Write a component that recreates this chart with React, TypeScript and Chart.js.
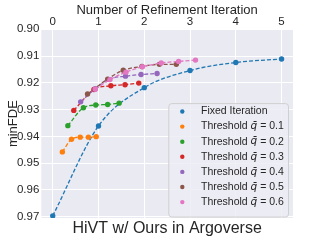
import React, { useEffect, useRef } from 'react';
import { Chart, registerables } from 'chart.js';
Chart.register(...registerables);

const fixedX = [0, 1, 2, 3, 4, 5];
const fixedY = [0.9697, 0.9361, 0.9218, 0.9154, 0.9124, 0.9111];
const q1X = [0.21, 0.41, 0.6, 0.78, 0.95];
const q1Y = [0.9458, 0.9411, 0.9403, 0.9403, 0.9401];
const q2X = [0.33, 0.67, 0.94, 1.2, 1.45];
const q2Y = [0.936, 0.9293, 0.9283, 0.9281, 0.9276];
const q3X = [0.46, 0.9, 1.27, 1.58, 1.88];
const q3Y = [0.9303, 0.9225, 0.9211, 0.9207, 0.9201];
const q4X = [0.61, 0.93, 1.22, 1.59, 1.93, 2.28];
const q4Y = [0.9271, 0.9222, 0.9187, 0.9175, 0.9169, 0.9165];
const q5X = [0.76, 1.2, 1.54, 1.95, 2.33, 2.7];
const q5Y = [0.9242, 0.9186, 0.9153, 0.9139, 0.9131, 0.9131];
const q6X = [0.93, 1.25, 1.6, 1.96, 2.37, 2.75, 3.12];
const q6Y = [0.9224, 0.9188, 0.916, 0.914, 0.9126, 0.912, 0.9115];

const seriesLabels = [
  'Fixed Iteration',
  'Threshold q̄ = 0.1',
  'Threshold q̄ = 0.2',
  'Threshold q̄ = 0.3',
  'Threshold q̄ = 0.4',
  'Threshold q̄ = 0.5',
  'Threshold q̄ = 0.6',
];
const seriesColors = ['#1f77b4', '#ff7f0e', '#2ca02c', '#d62728', '#9467bd', '#8c564b', '#e377c2'];
const seriesXs = [fixedX, q1X, q2X, q3X, q4X, q5X, q6X];
const seriesYs = [fixedY, q1Y, q2Y, q3Y, q4Y, q5Y, q6Y];

const xTitle = 'Number of Refinement Iteration';
const yTitle = 'minFDE';
const chartTitle = 'HiVT w/ Ours in Argoverse';

const FAMILY = '"Liberation Sans", Arial, sans-serif';
const TEXT = '#262626';

const bgPlugin = {
  id: 'bgArea',
  beforeDraw(chart: any) {
    const { ctx, chartArea: a } = chart;
    ctx.save();
    ctx.fillStyle = '#EAEAF2';
    ctx.fillRect(a.left, a.top, a.right - a.left, a.bottom - a.top);
    ctx.restore();
  },
};

const legendPlugin = {
  id: 'innerLegend',
  afterDatasetsDraw(chart: any) {
    const { ctx, chartArea: a } = chart;
    const right = a.right - 5;
    const bottom = a.bottom - 1.5;
    const w = 119.7;
    const h = 113.4;
    const left = right - w;
    const top = bottom - h;
    ctx.save();
    ctx.beginPath();
    ctx.roundRect(left + 0.5, top + 0.5, w, h, 3);
    ctx.fillStyle = 'rgba(236,236,244,0.85)';
    ctx.fill();
    ctx.strokeStyle = '#d0d0d0';
    ctx.lineWidth = 1;
    ctx.stroke();
    const fs = 10.5;
    seriesLabels.forEach((lab, i) => {
      const cy = top + 8.4 + i * 15.1;
      ctx.beginPath();
      ctx.arc(left + 14, cy, 2.2, 0, Math.PI * 2);
      ctx.fillStyle = seriesColors[i];
      ctx.fill();
      ctx.fillStyle = TEXT;
      ctx.textBaseline = 'middle';
      ctx.textAlign = 'left';
      let x = left + 32.7;
      const parts = lab.split('q̄');
      ctx.font = `${fs}px ${FAMILY}`;
      ctx.fillText(parts[0], x, cy);
      if (parts.length > 1) {
        x += ctx.measureText(parts[0]).width;
        ctx.font = `italic ${fs}px "DejaVu Sans", sans-serif`;
        ctx.fillText('q̄', x, cy);
        x += ctx.measureText('q').width;
        ctx.font = `${fs}px ${FAMILY}`;
        ctx.fillText(parts[1], x, cy);
      }
    });
    ctx.restore();
  },
};

const titlePlugin = {
  id: 'bottomTitle',
  afterDraw(chart: any) {
    const { ctx, chartArea: a } = chart;
    ctx.save();
    ctx.font = `16px ${FAMILY}`;
    ctx.fillStyle = TEXT;
    ctx.textAlign = 'center';
    ctx.textBaseline = 'alphabetic';
    ctx.fillText(chartTitle, (a.left + a.right) / 2, 233);
    ctx.restore();
  },
};

export default function App() {
  const ref = useRef<HTMLCanvasElement>(null);
  useEffect(() => {
    if (!ref.current) return;
    const datasets = seriesLabels.map((label, i) => ({
      label,
      data: seriesXs[i].map((x, j) => ({ x, y: seriesYs[i][j] })),
      borderColor: seriesColors[i],
      backgroundColor: seriesColors[i],
      borderWidth: 1.3,
      borderDash: [4, 2],
      pointRadius: 2.7,
      pointBorderWidth: 0,
      pointBackgroundColor: seriesColors[i],
      cubicInterpolationMode: 'monotone' as const,
      fill: false,
      order: 6 - i,
    }));
    const chart = new Chart(ref.current, {
      type: 'line',
      data: { datasets },
      plugins: [bgPlugin, legendPlugin, titlePlugin],
      options: {
        animation: false,
        responsive: true,
        maintainAspectRatio: false,
        events: [],
        layout: { padding: { left: 0, right: 34, top: 0, bottom: 27 } },
        plugins: { legend: { display: false }, tooltip: { enabled: false }, title: { display: false } },
        scales: {
          x: {
            type: 'linear',
            position: 'top',
            min: -0.25,
            max: 5.25,
            afterFit: (s: any) => { s.height = 29.3; },
            grid: { color: '#ffffff', lineWidth: 1, drawTicks: false },
            border: { display: false },
            ticks: { stepSize: 1, includeBounds: false, padding: 1, color: TEXT, font: { size: 11.5, family: FAMILY } },
            title: { display: true, text: xTitle, color: TEXT, font: { size: 13, family: FAMILY }, padding: { top: 2.7, bottom: 0 } },
          },
          y: {
            type: 'linear',
            position: 'left',
            reverse: true,
            min: 0.9,
            max: 0.9705,
            afterFit: (s: any) => { s.width = 41.3; },
            grid: { color: '#ffffff', lineWidth: 1, drawTicks: false },
            border: { display: false },
            ticks: {
              stepSize: 0.01,
              includeBounds: false,
              padding: 2,
              color: TEXT,
              font: { size: 11.5, family: FAMILY },
              callback: (v: any) => Number(v).toFixed(2),
            },
            title: { display: true, text: yTitle, color: TEXT, font: { size: 13, family: FAMILY }, padding: { top: 6, bottom: 0 } },
          },
        },
      },
    });
    return () => chart.destroy();
  }, []);
  return (
    <div style={{ position: 'absolute', left: 0, top: 0, width: 327, height: 245 }}>
      <canvas ref={ref} />
    </div>
  );
}
